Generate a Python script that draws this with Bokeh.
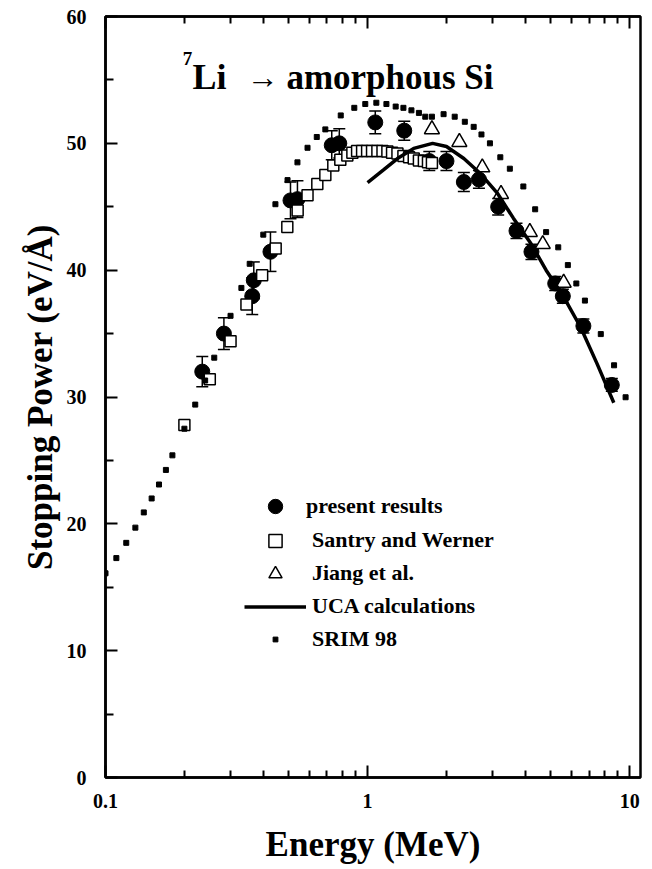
import numpy as np
from bokeh.plotting import figure
from bokeh.models import (ColumnDataSource, FixedTicker, LogAxis, Range1d, Whisker,
                          TeeHead, Legend, LegendItem, Label, Title, CustomJSTickFormatter)
from bokeh.embed import file_html
from bokeh.resources import INLINE

# ---------------- data ----------------
present_E = [0.234, 0.283, 0.363, 0.368, 0.426, 0.508, 0.54, 0.73, 0.78, 1.07, 1.38, 1.72,
             2.0, 2.33, 2.66, 3.15, 3.7, 4.22, 5.2, 5.56, 6.66, 8.55]
present_S = [32.0, 35.0, 37.95, 39.2, 41.45, 45.5, 45.6, 49.85, 50.0, 51.65, 51.0, 48.6,
             48.6, 46.95, 47.15, 45.0, 43.1, 41.45, 38.95, 37.95, 35.6, 30.95]
present_err = [1.2, 1.25, 1.45, 1.45, 1.55, 1.45, 1.45, 1.15, 1.15, 0.9, 0.75, 0.75,
               0.75, 0.75, 0.7, 0.65, 0.6, 0.6, 0.55, 0.55, 0.55, 0.5]

santry_E = [0.2, 0.25, 0.3, 0.345, 0.396, 0.446, 0.494, 0.541, 0.59, 0.643, 0.69, 0.74,
            0.787, 0.837, 0.875, 0.912, 0.953, 0.996, 1.04, 1.09, 1.14, 1.19, 1.24, 1.30,
            1.37, 1.44, 1.50, 1.57, 1.64, 1.70, 1.76]
santry_S = [27.8, 31.4, 34.4, 37.3, 39.6, 41.7, 43.4, 44.7, 45.9, 46.8, 47.5, 48.25,
            48.7, 49.05, 49.25, 49.4, 49.4, 49.4, 49.4, 49.4, 49.4, 49.35, 49.25, 49.2,
            49.0, 48.9, 48.8, 48.65, 48.6, 48.5, 48.45]

jiang_E = [1.76, 2.24, 2.74, 3.23, 4.16, 4.66, 5.6]
jiang_S = [51.1, 50.1, 48.1, 46.0, 43.0, 42.05, 39.0]

uca_E = [1.0, 1.15, 1.3, 1.5, 1.77, 2.0, 2.33, 2.7, 3.12, 3.6, 4.2, 4.8, 5.6, 6.5, 7.5, 8.7]
uca_S = [46.9, 47.9, 48.8, 49.6, 50.0, 49.75, 48.8, 47.6, 46.1, 44.1, 42.1, 40.0, 37.9,
         35.5, 32.65, 29.55]

srim_E = [0.1, 0.11, 0.12, 0.13, 0.14, 0.15, 0.16, 0.17, 0.18, 0.2, 0.22, 0.24, 0.26, 0.3,
          0.33, 0.355, 0.4, 0.445, 0.495, 0.54, 0.59, 0.64, 0.69, 0.79, 0.89, 0.98, 1.08,
          1.18, 1.28, 1.37, 1.47, 1.57, 1.66, 1.76, 1.95, 2.15, 2.35, 2.54, 2.72, 2.93,
          3.21, 3.49, 3.93, 4.36, 4.8, 5.34, 5.81, 6.26, 6.75, 7.76, 8.72, 9.65]
srim_S = [16.1, 17.3, 18.5, 19.7, 20.9, 22.0, 23.1, 24.25, 25.4, 27.5, 29.4, 31.3, 33.1,
          36.4, 38.6, 40.5, 42.8, 45.2, 47.1, 48.5, 49.65, 50.5, 51.1, 52.2, 52.8, 53.1,
          53.2, 53.1, 52.9, 52.8, 52.6, 52.4, 52.1, 52.1, 52.3, 52.1, 51.7, 51.3, 50.7,
          50.0, 48.9, 48.0, 46.6, 44.8, 43.0, 41.8, 40.4, 38.95, 37.6, 34.96, 32.5, 29.98]

x_major_ticks = [0.1, 1, 10]
x_minor_ticks = [0.2, 0.3, 0.4, 0.5, 0.6, 0.7, 0.8, 0.9, 2, 3, 4, 5, 6, 7, 8, 9]
y_major_ticks = [0, 10, 20, 30, 40, 50, 60]
y_minor_ticks = [5, 15, 25, 35, 45, 55]

FONT = "Liberation Serif"

# ---------------- figure ----------------
p = figure(width=650, height=866, x_axis_type="log",
           x_range=Range1d(0.1, 11.0), y_range=Range1d(0, 60),
           output_backend="svg", toolbar_location=None,
           min_border_left=105, min_border_right=10, min_border_top=16, min_border_bottom=88)
p.grid.visible = False
p.outline_line_color = "black"
p.outline_line_width = 2.5
p.background_fill_color = "white"
p.border_fill_color = "white"

for ax in (p.xaxis[0], p.yaxis[0]):
    ax.axis_line_width = 2.5
    ax.axis_line_color = "black"
    ax.major_tick_line_width = 2
    ax.minor_tick_line_width = 2
    ax.major_tick_line_color = "black"
    ax.minor_tick_line_color = "black"
    ax.major_tick_out = 0
    ax.minor_tick_out = 0
    ax.major_tick_in = 12
    ax.major_label_text_font = FONT
    ax.major_label_text_font_style = "bold"
    ax.major_label_text_font_size = "20px"
    ax.major_label_text_color = "black"
    ax.axis_label_text_font = FONT
    ax.axis_label_text_font_style = "bold"
    ax.axis_label_text_font_size = "35px"
    ax.axis_label_text_color = "black"

xa = p.xaxis[0]
xa.ticker = FixedTicker(ticks=x_major_ticks, minor_ticks=x_minor_ticks)
xa.formatter = CustomJSTickFormatter(code="return tick.toString()")
xa.minor_tick_in = 7
xa.major_label_standoff = 16
xa.axis_label = "Energy (MeV)"
xa.axis_label_standoff = 14

ya = p.yaxis[0]
ya.ticker = FixedTicker(ticks=y_major_ticks, minor_ticks=y_minor_ticks)
ya.minor_tick_in = 8
ya.major_label_standoff = 19

top = LogAxis(ticker=FixedTicker(ticks=x_major_ticks, minor_ticks=x_minor_ticks),
              formatter=CustomJSTickFormatter(code="return ''"),
              axis_line_width=2.5, major_tick_line_width=2, minor_tick_line_width=2,
              major_tick_out=0, minor_tick_out=0, major_tick_in=12, minor_tick_in=7,
              major_label_standoff=0, major_label_text_font_size="1px")
p.add_layout(top, "above")

# y-axis title as a side title, shifted up a little as in the original
p.add_layout(Title(text="Stopping Power (eV/Å)", align="center", offset=40, standoff=8,
                   text_font=FONT, text_font_style="bold", text_font_size="35px",
                   text_color="black"), "left")

# ---------------- glyphs ----------------
src_p = ColumnDataSource(dict(E=present_E, S=present_S,
                              lo=[s - e for s, e in zip(present_S, present_err)],
                              hi=[s + e for s, e in zip(present_S, present_err)]))
wh = Whisker(source=src_p, base="E", upper="hi", lower="lo", dimension="height",
             line_width=1.5, line_color="black",
             upper_head=TeeHead(size=12, line_width=1.5, line_color="black"),
             lower_head=TeeHead(size=12, line_width=1.5, line_color="black"))
p.add_layout(wh)

r_pres = p.scatter("E", "S", source=src_p, marker="circle", size=15,
                   fill_color="black", line_color="black")
r_santry = p.scatter(santry_E, santry_S, marker="square", size=11, fill_color="white",
                     line_color="black", line_width=1.5)
r_jiang = p.scatter(jiang_E, jiang_S, marker="triangle", size=15, fill_color="white",
                    line_color="black", line_width=1.5)
r_uca = p.line(uca_E, uca_S, line_color="black", line_width=3.5)
r_srim = p.scatter(srim_E, srim_S, marker="square", size=5, fill_color="black",
                   line_color="black")

# ---------------- legends ----------------
def mk_legend(items, loc, gh, standoff):
    return Legend(items=items, location=loc, glyph_width=62, glyph_height=gh,
                  label_height=33, spacing=0, padding=0, margin=0,
                  label_standoff=standoff, border_line_color=None,
                  background_fill_alpha=0, label_text_font=FONT,
                  label_text_font_style="bold", label_text_font_size="22px",
                  label_text_color="black")

leg1 = mk_legend([LegendItem(label="present results", renderers=[r_pres])],
                 (139, 253.5), 36, 0)
leg2 = mk_legend([LegendItem(label="Santry and Werner", renderers=[r_santry]),
                  LegendItem(label="Jiang et al.", renderers=[r_jiang]),
                  LegendItem(label="UCA calculations", renderers=[r_uca])],
                 (139, 154.5), 33, 6)
leg3 = mk_legend([LegendItem(label="SRIM 98", renderers=[r_srim])],
                 (139, 121.5), 12, 6)
for lg in (leg1, leg2, leg3):
    p.add_layout(lg)

# ---------------- title inside plot ----------------
p.add_layout(Label(x=0.197, y=56.7, text="7", text_font=FONT, text_font_style="bold",
                   text_font_size="19px", text_baseline="alphabetic", text_color="black"))
p.add_layout(Label(x=0.2147, y=55.2, text="Li", text_font=FONT, text_font_style="bold",
                   text_font_size="36px", text_baseline="alphabetic", text_color="black"))
p.add_layout(Label(x=0.345, y=55.2, text="→", text_font=FONT,
                   text_font_size="32px", text_baseline="alphabetic", text_color="black"))
p.add_layout(Label(x=0.49, y=55.2, text="amorphous Si", text_font=FONT,
                   text_font_style="bold", text_font_size="35px",
                   text_baseline="alphabetic", text_color="black"))

open("out.html", "w").write(file_html(p, INLINE))
